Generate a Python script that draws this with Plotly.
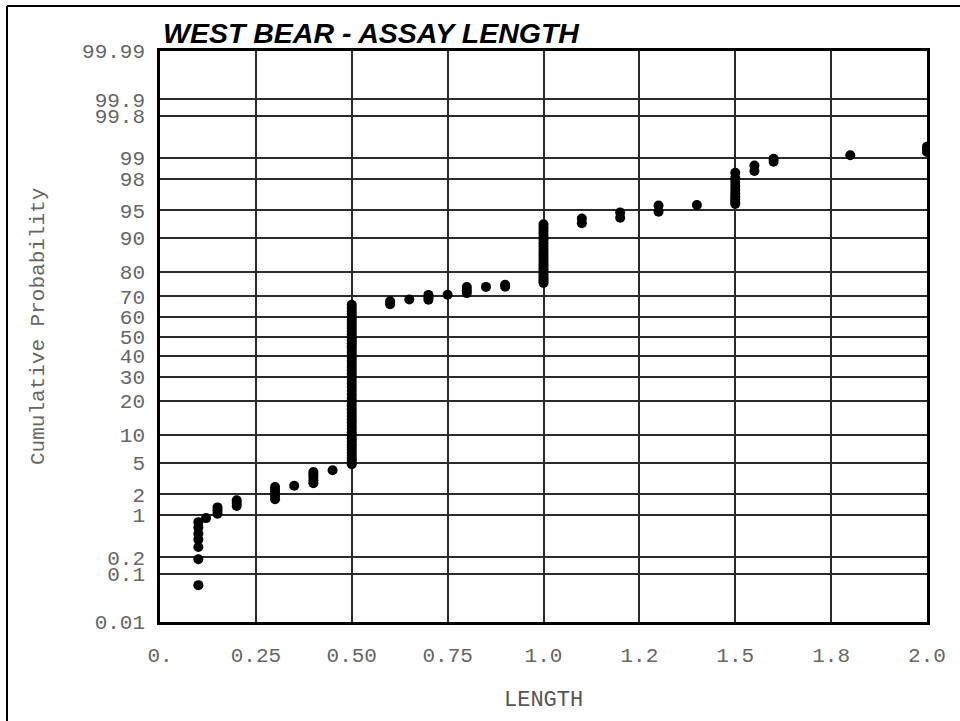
import plotly.graph_objects as go
from statistics import NormalDist

# ---------------- data ----------------
# sample lengths and the cumulative probabilities (%) plotted at each length
lengths = [0.10, 0.12, 0.15, 0.20, 0.30, 0.35, 0.40, 0.45, 0.50,
           0.60, 0.65, 0.70, 0.75, 0.80, 0.85, 0.90, 1.00,
           1.10, 1.20, 1.30, 1.40, 1.50, 1.55, 1.60, 1.80, 2.00]
cum_prob_pct_by_length = [
    [0.06, 0.185, 0.305, 0.41, 0.51, 0.64, 0.78],
    [0.90],
    [1.05, 1.17, 1.30],
    [1.36, 1.50, 1.64],
    [1.70, 1.88, 2.07, 2.28, 2.50],
    [2.60],
    [2.80, 3.05, 3.35, 3.62, 3.88],
    [4.07],
    [4.8, 5.2, 5.6, 6.0, 6.5, 7.0, 7.5, 8.0, 8.6, 9.2, 9.9, 10.6, 11.4, 12.2,
     13.1, 14.0, 15.0, 16.0, 17.2, 18.4, 19.7, 21.0, 22.5, 24.0, 25.5, 27.0,
     28.5, 30.0, 31.5, 33.0, 34.5, 36.0, 37.5, 39.0, 40.5, 42.0, 43.5, 45.0,
     46.5, 48.0, 49.5, 51.0, 52.5, 54.0, 55.5, 57.0, 58.5, 60.0, 61.5, 63.0,
     64.5, 66.0],
    [66.3, 67.7],
    [68.5],
    [68.4, 69.5, 70.6],
    [70.7],
    [71.4, 72.7, 74.0],
    [74.1],
    [74.2, 75.0],
    [75.7, 76.5, 77.3, 78.1, 79.0, 79.9, 80.8, 81.7, 82.6, 83.5, 84.4, 85.3,
     86.2, 87.1, 88.0, 88.8, 89.6, 90.3, 91.0, 91.6, 92.2, 92.8],
    [93.0, 93.8],
    [93.9, 94.7],
    [94.8, 95.6],
    [95.66],
    [95.8, 96.0, 96.3, 96.6, 96.9, 97.2, 97.5, 97.8, 98.05, 98.35],
    [98.45, 98.7],
    [98.86, 98.97],
    [99.09],
    [99.19, 99.26, 99.33],
]

y_tick_pct = [0.01, 0.1, 0.2, 1, 2, 5, 10, 20, 30, 40, 50, 60, 70, 80, 90,
              95, 98, 99, 99.8, 99.9, 99.99]
y_tick_text = ["0.01", "0.1", "0.2", "1", "2", "5", "10", "20", "30", "40", "50",
               "60", "70", "80", "90", "95", "98", "99", "99.8", "99.9", "99.99"]
x_tick_vals = [0.0, 0.25, 0.50, 0.75, 1.0, 1.25, 1.5, 1.75, 2.0]
x_tick_text = ["0.", "0.25", "0.50", "0.75", "1.0", "1.2", "1.5", "1.8", "2.0"]

title_text = "WEST BEAR - ASSAY LENGTH"
x_title = "LENGTH"
y_title = "Cumulative Probability"

# ---------------- probability (normal) scale ----------------
nd = NormalDist()
def probit(p_pct):
    return nd.inv_cdf(p_pct / 100.0)

xs, ys = [], []
for L, plist in zip(lengths, cum_prob_pct_by_length):
    for p in plist:
        xs.append(L)
        ys.append(probit(p))

y_tick_z = [probit(p) for p in y_tick_pct]
z_lo, z_hi = probit(0.01), probit(99.99)

W, H = 960, 721
ML, MR, MT, MB = 160, 33, 51, 99
PW, PH = W - ML - MR, H - MT - MB

def px_to_paper_x(px):
    return (px - ML) / PW

def px_to_paper_y(py):
    return (H - MB - py) / PH

mono = "Courier New, Liberation Mono, DejaVu Sans Mono, monospace"
grey = "#666666"

fig = go.Figure()
fig.add_trace(go.Scatter(
    x=xs, y=ys, mode="markers",
    marker=dict(color="black", size=10, line=dict(width=0)),
    hoverinfo="skip", showlegend=False,
))

fig.update_layout(
    width=W, height=H,
    margin=dict(l=ML, r=MR, t=MT, b=MB),
    paper_bgcolor="white", plot_bgcolor="white",
    showlegend=False,
    xaxis=dict(
        range=[0, 2.0], tickvals=x_tick_vals, ticktext=x_tick_text,
        showgrid=True, gridcolor="#2a2a2a", gridwidth=1.5,
        zeroline=False, showline=True, mirror=True,
        linecolor="black", linewidth=2.5,
        ticks="outside", ticklen=12, tickcolor="rgba(0,0,0,0)",
        tickfont=dict(family=mono, size=21, color=grey),
    ),
    yaxis=dict(
        range=[z_lo, z_hi], tickvals=y_tick_z, ticktext=y_tick_text,
        showgrid=True, gridcolor="#2a2a2a", gridwidth=1.5,
        zeroline=False, showline=True, mirror=True,
        linecolor="black", linewidth=2.5,
        ticks="outside", ticklen=8, tickcolor="rgba(0,0,0,0)",
        tickfont=dict(family=mono, size=21, color=grey),
    ),
    annotations=[
        dict(text="<b><i>" + title_text + "</i></b>", xref="paper", yref="paper",
             x=px_to_paper_x(161), y=1.0, xanchor="left", yanchor="bottom",
             showarrow=False,
             font=dict(family="Liberation Sans, Arial, sans-serif", size=28.5, color="black")),
        dict(text=x_title, xref="paper", yref="paper",
             x=0.5, y=px_to_paper_y(700), xanchor="center", yanchor="middle",
             showarrow=False, font=dict(family=mono, size=22, color="#555555")),
        dict(text=y_title, xref="paper", yref="paper", textangle=-90,
             x=px_to_paper_x(38), y=px_to_paper_y(327), xanchor="center", yanchor="middle",
             showarrow=False, font=dict(family=mono, size=21, color=grey)),
    ],
    shapes=[
        dict(type="line", xref="paper", yref="paper",
             x0=px_to_paper_x(7), x1=px_to_paper_x(7),
             y0=px_to_paper_y(6), y1=px_to_paper_y(H + 10),
             line=dict(color="black", width=2)),
        dict(type="line", xref="paper", yref="paper",
             x0=px_to_paper_x(7), x1=px_to_paper_x(W + 10),
             y0=px_to_paper_y(6), y1=px_to_paper_y(6),
             line=dict(color="black", width=2)),
    ],
)

fig.write_html(
    "out.html",
    config={"displayModeBar": False},
    post_script="document.body.style.margin='0';document.body.style.overflow='hidden';",
)
